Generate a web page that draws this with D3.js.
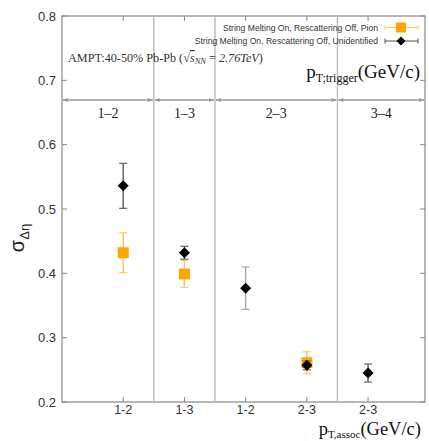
<!DOCTYPE html>
<head>
  <meta charset="utf-8">
  <style>
  body{ margin:0; background:white; }
  svg text{ font-family: "Liberation Sans", Arial, sans-serif; }
  .serif{ font-family: "Liberation Serif", "Times New Roman", serif; }
  </style>
</head>
<body>
  <svg width="429" height="441"></svg>
  <script src="https://d3js.org/d3.v7.min.js"></script>
  <script>

  // ---- data ----
  var assocLabels = ["1-2", "1-3", "1-2", "2-3", "2-3"];
  var triggerLabels = ["1\u20132", "1\u20133", "2\u20133", "3\u20134"];
  var triggerEdges = [0, 1.5, 2.5, 4.5, 5.93];
  var yTicks = [0.2, 0.3, 0.4, 0.5, 0.6, 0.7, 0.8];

  var pionX = [1, 2, 4];
  var pionY = [0.432, 0.399, 0.261];
  var pionErr = [0.031, 0.021, 0.017];

  var unidX = [1, 2, 3, 4, 5];
  var unidY = [0.536, 0.432, 0.377, 0.257, 0.245];
  var unidErr = [0.035, 0.010, 0.033, 0.007, 0.014];
  var unidErrColor = ["#666", "#666", "#aaa", "#666", "#666"];

  var svg = d3.select("svg"),
      pLeft = 62, pRight = 425, pTop = 16, pBottom = 402;

  var x = d3.scaleLinear().domain([0, 5.93]).range([pLeft, pRight]);
  var y = d3.scaleLinear().domain([0.2, 0.8]).range([pBottom, pTop]);

  // frame
  svg.append("rect")
      .attr("x", pLeft).attr("y", pTop)
      .attr("width", pRight - pLeft).attr("height", pBottom - pTop)
      .attr("fill", "none").attr("stroke", "#888").attr("stroke-width", 1.2);

  // separators between trigger bins
  svg.selectAll("line.sep")
    .data(triggerEdges.slice(1, -1))
    .enter().append("line")
      .attr("x1", function(d) { return x(d); }).attr("x2", function(d) { return x(d); })
      .attr("y1", pTop).attr("y2", pBottom)
      .attr("stroke", "#bbb").attr("stroke-width", 1.4);

  // y ticks left and right
  yTicks.forEach(function(v) {
    svg.append("line").attr("x1", pLeft).attr("x2", pLeft + 5)
        .attr("y1", y(v)).attr("y2", y(v)).attr("stroke", "#888");
    svg.append("line").attr("x1", pRight - 5).attr("x2", pRight)
        .attr("y1", y(v)).attr("y2", y(v)).attr("stroke", "#888");
    svg.append("text").attr("x", 56).attr("y", y(v) + 4.5)
        .attr("text-anchor", "end").attr("font-size", 13).attr("fill", "#333")
        .text(v.toFixed(1));
  });

  // x ticks bottom and top
  assocLabels.forEach(function(l, i) {
    var px = x(i + 1);
    svg.append("line").attr("x1", px).attr("x2", px)
        .attr("y1", pBottom).attr("y2", pBottom - 5).attr("stroke", "#888");
    svg.append("line").attr("x1", px).attr("x2", px)
        .attr("y1", pTop).attr("y2", pTop + 5).attr("stroke", "#888");
    svg.append("text").attr("x", px).attr("y", 414)
        .attr("text-anchor", "middle").attr("font-size", 12.5).attr("fill", "#333")
        .text(l);
  });

  // trigger bin arrows
  var defs = svg.append("defs");
  defs.append("marker").attr("id", "ah").attr("viewBox", "0 0 10 10")
      .attr("refX", 10).attr("refY", 5).attr("markerWidth", 10).attr("markerHeight", 5)
      .attr("markerUnits", "userSpaceOnUse").attr("orient", "auto-start-reverse")
    .append("path").attr("d", "M0,1L10,5L0,9Z").attr("fill", "#999");

  var ay = 100;
  triggerLabels.forEach(function(l, i) {
    var x0 = x(triggerEdges[i]) + 1, x1 = x(triggerEdges[i + 1]) - 1;
    svg.append("line").attr("x1", x0).attr("x2", x1).attr("y1", ay).attr("y2", ay)
        .attr("stroke", "#999").attr("stroke-width", 1.5)
        .attr("marker-start", "url(#ah)").attr("marker-end", "url(#ah)");
    svg.append("text").attr("class", "serif")
        .attr("x", (x0 + x1) / 2).attr("y", 118)
        .attr("text-anchor", "middle").attr("font-size", 14).attr("fill", "#222")
        .text(l);
  });

  // axis titles
  var tt = svg.append("text").attr("class", "serif")
      .attr("x", 420).attr("y", 78).attr("text-anchor", "end")
      .attr("font-size", 19).attr("fill", "#111");
  tt.append("tspan").text("p");
  tt.append("tspan").attr("font-size", 12).attr("dy", 4).text("T;trigger");
  tt.append("tspan").attr("dy", -4).text("(GeV/c)");

  var xt = svg.append("text").attr("class", "serif")
      .attr("x", 421).attr("y", 434.5).attr("text-anchor", "end")
      .attr("font-size", 18.5).attr("fill", "#111");
  xt.append("tspan").text("p");
  xt.append("tspan").attr("font-size", 11).attr("dy", 3).text("T,assoc");
  xt.append("tspan").attr("dy", -3).text("(GeV/c)");

  var yt = svg.append("text")
      .attr("transform", "translate(24,238) rotate(-90)")
      .attr("text-anchor", "middle").attr("font-size", 20).attr("fill", "#222");
  yt.append("tspan").text("\u03c3");
  yt.append("tspan").attr("font-size", 13).attr("dy", 5).text("\u0394\u03b7");

  // AMPT annotation
  var at = svg.append("text").attr("class", "serif")
      .attr("x", 68).attr("y", 62).attr("font-size", 12.2).attr("fill", "#333");
  at.append("tspan").text("AMPT:40-50% Pb-Pb (\u221a");
  at.append("tspan").attr("font-style", "italic").attr("text-decoration", "overline").text("s");
  at.append("tspan").attr("font-style", "italic").attr("font-size", 8.5).attr("dy", 2).text("NN");
  at.append("tspan").attr("dy", -2).text(" = ");
  at.append("tspan").attr("font-style", "italic").text("2.76TeV");
  at.append("tspan").text(")");

  // error bars + markers
  function errBars(xs, ys, es, colors) {
    xs.forEach(function(xv, i) {
      var px = x(xv), c = typeof colors === "string" ? colors : colors[i];
      svg.append("line").attr("x1", px).attr("x2", px)
          .attr("y1", y(ys[i] + es[i])).attr("y2", y(ys[i] - es[i]))
          .attr("stroke", c).attr("stroke-width", 1.5);
      [ys[i] + es[i], ys[i] - es[i]].forEach(function(v) {
        svg.append("line").attr("x1", px - 4).attr("x2", px + 4)
            .attr("y1", y(v)).attr("y2", y(v)).attr("stroke", c).attr("stroke-width", 1.2);
      });
    });
  }

  errBars(pionX, pionY, pionErr, "#ffc862");
  svg.selectAll("rect.pion")
    .data(pionX)
    .enter().append("rect")
      .attr("class", "pion")
      .attr("x", function(d) { return x(d) - 5.5; })
      .attr("y", function(d, i) { return y(pionY[i]) - 5.5; })
      .attr("width", 11).attr("height", 11).attr("fill", "#ffa500");

  errBars(unidX, unidY, unidErr, unidErrColor);
  svg.selectAll("path.unid")
    .data(unidX)
    .enter().append("path")
      .attr("class", "unid")
      .attr("d", "M0,-5.5L5.5,0L0,5.5L-5.5,0Z")
      .attr("transform", function(d, i) { return "translate(" + x(d) + "," + y(unidY[i]) + ")"; })
      .attr("fill", "#000");

  // legend
  var legend = [
    { label: "String Melting On, Rescattering Off, Pion", color: "#ffc862", mark: "square" },
    { label: "String Melting On, Rescattering Off, Unidentified", color: "#555", mark: "diamond" }
  ];
  legend.forEach(function(d, i) {
    var ly = 27.5 + i * 13.5, cx = 401;
    svg.append("text").attr("x", 378).attr("y", ly + 3)
        .attr("text-anchor", "end").attr("font-size", 8.6).attr("fill", "#333")
        .text(d.label);
    svg.append("line").attr("x1", 385).attr("x2", 418).attr("y1", ly).attr("y2", ly)
        .attr("stroke", d.color).attr("stroke-width", 1);
    [385, 418].forEach(function(px) {
      svg.append("line").attr("x1", px).attr("x2", px).attr("y1", ly - 2.5).attr("y2", ly + 2.5)
          .attr("stroke", d.color);
    });
    if (d.mark === "square") {
      svg.append("rect").attr("x", cx - 5).attr("y", ly - 5).attr("width", 10).attr("height", 10)
          .attr("fill", "#ffa500");
    } else {
      svg.append("path").attr("d", "M0,-4.5L4.5,0L0,4.5L-4.5,0Z")
          .attr("transform", "translate(" + cx + "," + ly + ")").attr("fill", "#000");
    }
  });

  </script>
</body>
